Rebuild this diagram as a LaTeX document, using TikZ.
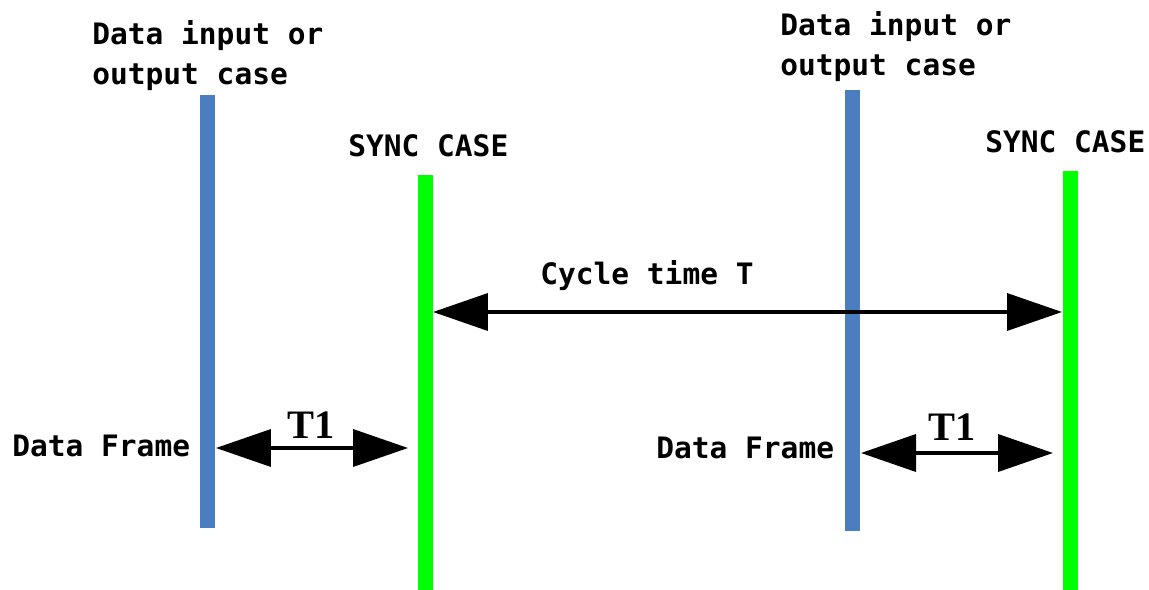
\documentclass[tikz,border=0pt]{standalone}
\usepackage{fontspec}
\usepackage{tikz}
\usetikzlibrary{arrows.meta}
\newfontfamily\casefont{DejaVu Sans Mono}
\newfontfamily\tonefont{Liberation Serif}
\definecolor{databar}{RGB}{74,126,193}
\definecolor{syncbar}{RGB}{0,255,0}

\tikzset{
  dbar/.style={line width=0.3cm, draw=databar},
  sbar/.style={line width=0.3cm, draw=syncbar},
  lbl/.style={anchor=base west, inner sep=0pt, font=\casefont\bfseries\fontsize{16.8}{20}\selectfont},
  tlbl/.style={anchor=base, inner sep=0pt, font=\tonefont\bfseries\fontsize{23}{26}\selectfont},
  spanarrow/.style={line width=2.1pt, {Triangle[length=1.1cm,width=0.74cm]}-{Triangle[length=1.1cm,width=0.74cm]}}
}

\begin{document}
\begin{tikzpicture}[x=0.02cm, y=-0.02cm]
        \useasboundingbox (0,0) rectangle (1149,590);                 %
        \draw [dbar] (207.5,95) -- (207.5,528);                        %data case 1
        \draw [sbar] (425.5,175) -- (425.5,590);                       %sync 1
        \draw [dbar] (852.5,90) -- (852.5,531);                        %data case 2
        \draw [sbar] (1070,171) -- (1070,590);                         %sync 2
        \node [lbl] (in1a)   at (92,45)   {Data input or};             %
        \node [lbl] (in1b)   at (92,85)   {output case};               %
        \node [lbl] (in2a)   at (780,36)  {Data input or};             %
        \node [lbl] (in2b)   at (780,76)  {output case};               %
        \node [lbl] (sync1)  at (348,157) {SYNC CASE};                 %
        \node [lbl] (sync2)  at (985,153) {SYNC CASE};                 %
        \node [lbl] (cycle)  at (540,285) {Cycle time T};              %
        \node [lbl] (frame1) at (12,457)  {Data Frame};                %
        \node [lbl] (frame2) at (656,459) {Data Frame};                %
        \node [tlbl] (t1a)   at (311,439) {T1};                        %
        \node [tlbl] (t1b)   at (952,441) {T1};                        %
        \coordinate (cy1) at (433,312);                                %cycle ends
        \coordinate (cy2) at (1062,312);                               %
        \coordinate (ta1) at (216,448);                                %T1 ends, left
        \coordinate (ta2) at (408,448);                                %
        \coordinate (tb1) at (861,453);                                %T1 ends, right
        \coordinate (tb2) at (1053,453);                               %
        \draw [spanarrow] (cy1) -- (cy2);                              %T
        \draw [spanarrow] (ta1) -- (ta2);                              %T1
        \draw [spanarrow] (tb1) -- (tb2);                              %T1
\end{tikzpicture}
\end{document}
